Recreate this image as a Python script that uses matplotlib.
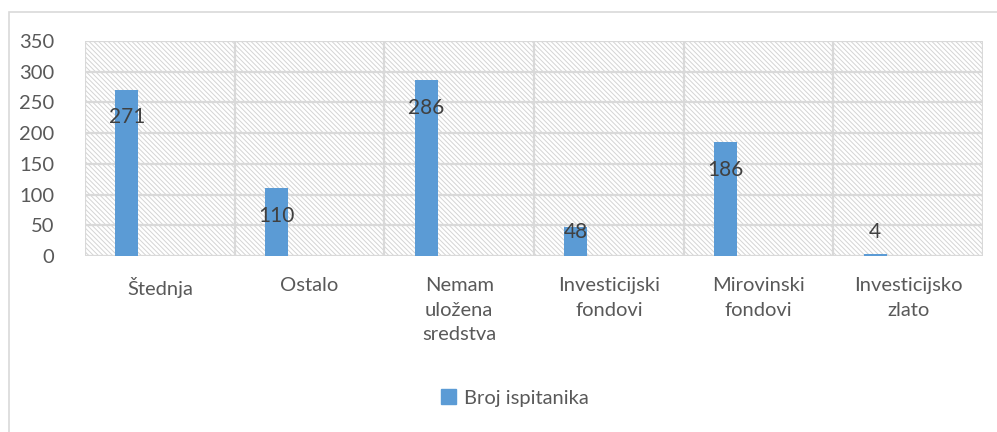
import matplotlib
matplotlib.use('Agg')
import matplotlib.pyplot as plt
from matplotlib.patches import Rectangle
import numpy as np

categories = ['Štednja', 'Ostalo', 'Nemam\nuložena\nsredstva',
              'Investicijski\nfondovi', 'Mirovinski\nfondovi', 'Investicijsko\nzlato']
values = [271, 110, 286, 48, 186, 4]
series_name = 'Broj ispitanika'
yticks = [0, 50, 100, 150, 200, 250, 300, 350]

plt.rcParams['font.family'] = ['Lato', 'DejaVu Sans']
plt.rcParams['hatch.linewidth'] = 0.7
text_col = '#595959'
grid_col = '#d9d9d9'
bar_col = '#5b9bd5'

fig = plt.figure(figsize=(9.97, 4.32), dpi=100)
ax = fig.add_axes([85 / 997, 1 - 256 / 432, (983 - 85) / 997, (256 - 41) / 432])

# hatched plot area background
bg = Rectangle((0, 0), 1, 1, transform=ax.transAxes, facecolor='white',
               edgecolor='#d4d4d4', hatch='\\' * 7, linewidth=0, zorder=0)
ax.add_patch(bg)

x = np.arange(len(categories))
ax.bar(x - 0.22, values, width=0.153, color=bar_col, zorder=3)

ax.set_xlim(-0.5, len(categories) - 0.5)
ax.set_ylim(0, 350)
ax.set_yticks(yticks)
ax.set_xticks(x)
ax.set_xticklabels(categories, linespacing=1.55)

# gridlines
for yv in yticks:
    ax.axhline(yv, color=grid_col, lw=1.6, zorder=1)
for xv in np.arange(-0.5, len(categories), 1.0):
    ax.axvline(xv, color=grid_col, lw=1.6, zorder=1)

for s in ax.spines.values():
    s.set_visible(False)
ax.tick_params(axis='both', length=0, colors=text_col, labelsize=14.5)
ax.tick_params(axis='y', pad=22)
ax.tick_params(axis='x', pad=15)
for lbl in ax.get_xticklabels():
    lbl.set_verticalalignment('top')

# data labels
for xi, v in zip(x, values):
    ly = max(v - 45.5, 39)
    ax.text(xi - 0.22, ly, str(v), ha='center', va='center', fontsize=15,
            color='#404040', zorder=4)

# legend
h = [Rectangle((0, 0), 1, 1, color=bar_col)]
fig.legend(h, [series_name], loc='center', bbox_to_anchor=(515 / 997, 1 - 398 / 432),
           frameon=False, fontsize=14.5, handlelength=0.75, handleheight=0.75,
           handletextpad=0.4, labelcolor=text_col)

# outer chart border
fig.add_artist(Rectangle((8.5 / 997, -0.1), 1.2, 1.1 - 12.5 / 432,
                         transform=fig.transFigure, fill=False,
                         edgecolor=grid_col, lw=1.2))

fig.savefig('out.png', dpi=100)
